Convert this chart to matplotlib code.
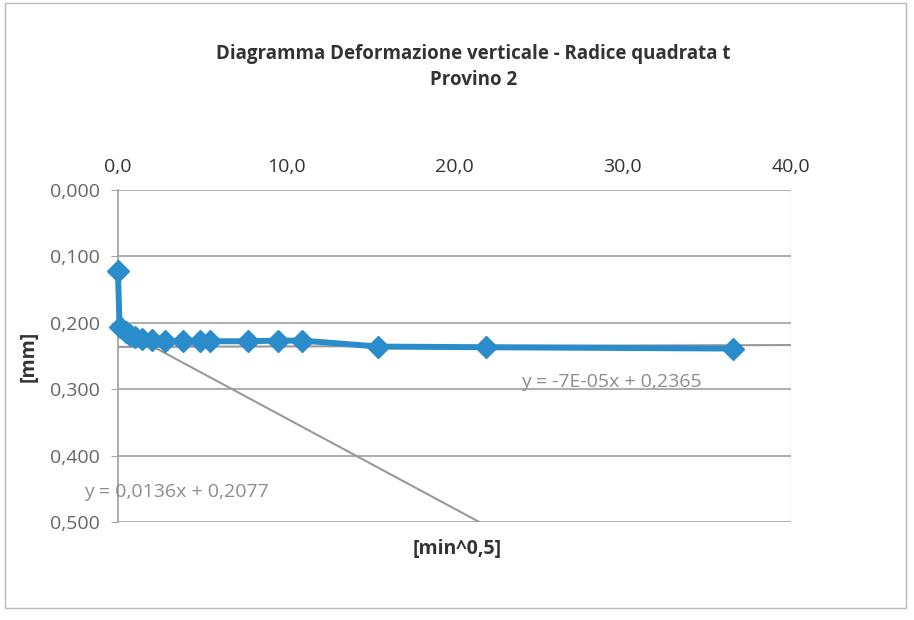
import numpy as np
import matplotlib.pyplot as plt
from matplotlib.patches import Rectangle

# Dati: radice del tempo [min^0,5] e deformazione [mm]
sqrt_t = [0.0, 0.1, 0.5, 0.71, 1.0, 1.41, 2.0, 2.83, 3.87, 4.90, 5.48,
          7.75, 9.49, 10.95, 15.49, 21.91, 36.6]
defo = [0.123, 0.206, 0.214, 0.219, 0.222, 0.224, 0.226, 0.227, 0.228,
        0.228, 0.228, 0.228, 0.227, 0.227, 0.236, 0.237, 0.239]

# Linee di tendenza (coefficienti come riportati nel grafico)
trend1 = (-7e-05, 0.2365)
trend1_x = [0.0, 40.0]
trend2 = (0.0136, 0.2077)
trend2_x = [1.9, 21.5]

xticks = [0, 10, 20, 30, 40]
yticks = [0.0, 0.1, 0.2, 0.3, 0.4, 0.5]

plt.rcParams['font.family'] = ['Open Sans', 'DejaVu Sans']
grey = '#8c8c8c'
blue = '#2b8ccb'

fig = plt.figure(figsize=(9.14, 6.2), dpi=100)
ax = fig.add_axes([0.129, 0.158, 0.736, 0.536])

for y in yticks:
    ax.axhline(y, color='#a6a6a6', lw=1.3, zorder=1)

x1 = np.array(trend1_x)
ax.plot(x1, trend1[0] * x1 + trend1[1], color='#999999', lw=1.5, zorder=2)
x2 = np.array(trend2_x)
ax.plot(x2, trend2[0] * x2 + trend2[1], color='#999999', lw=1.5, zorder=2)

ax.plot(sqrt_t, defo, color=blue, lw=4.3, marker='D', markersize=11,
        markeredgecolor=blue, zorder=3, clip_on=False)

ax.set_xlim(0, 40)
ax.set_ylim(0.5, 0.0)
ax.set_xticks(xticks)
ax.set_xticklabels([f'{v:.1f}'.replace('.', ',') for v in xticks])
ax.set_yticks(yticks)
ax.set_yticklabels([f'{v:.3f}'.replace('.', ',') for v in yticks])
ax.xaxis.tick_top()
ax.tick_params(axis='x', length=0, pad=10, labelsize=14, labelcolor='#333333')
ax.tick_params(axis='y', length=5, color='#a6a6a6', pad=8, labelsize=14,
               labelcolor='#666666')

for s in ['top', 'right', 'bottom']:
    ax.spines[s].set_visible(False)
ax.spines['left'].set_color('#a6a6a6')
ax.spines['left'].set_linewidth(1.3)
ax.axvline(40, color='#cccccc', lw=1)

ax.text(24.0, 0.29, 'y = -7E-05x + 0,2365', color=grey, fontsize=14,
        va='center')
ax.text(-2.0, 0.455, 'y = 0,0136x + 0,2077', color=grey, fontsize=14,
        va='center')

ax.set_ylabel('[mm]', fontsize=14, fontweight='bold', color='#333333',
              labelpad=8)
fig.text(0.5, 0.115, '[min^0,5]', ha='center', va='center', fontsize=14,
         fontweight='bold', color='#333333')

fig.text(0.518, 0.892, 'Diagramma Deformazione verticale - Radice quadrata t\nProvino 2',
         ha='center', va='center', fontsize=13.5, fontweight='bold',
         color='#333333', linespacing=1.4)

fig.patches.append(Rectangle((0.006, 0.02), 0.985, 0.975, transform=fig.transFigure,
                             fill=False, edgecolor='#bbbbbb', lw=1))

fig.savefig('out.png', dpi=100)
